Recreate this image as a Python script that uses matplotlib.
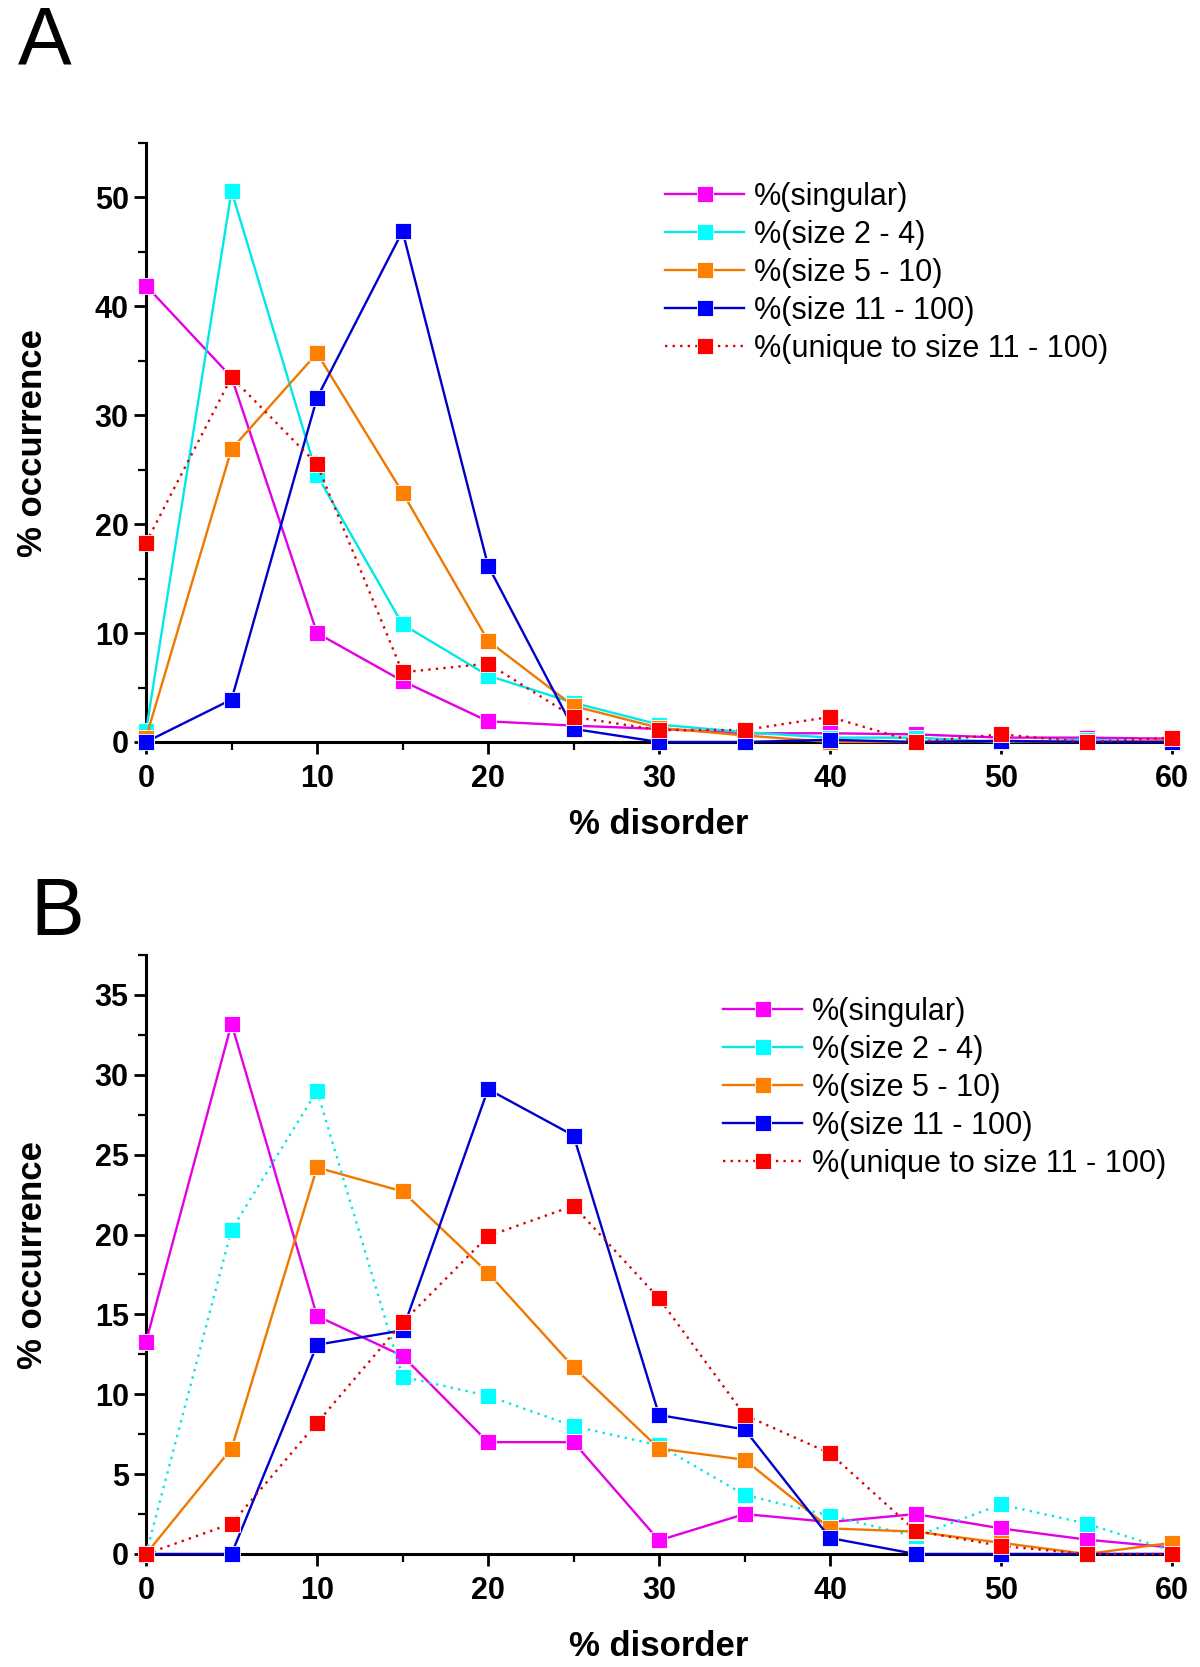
import matplotlib
matplotlib.use("Agg")
import matplotlib.pyplot as plt
from matplotlib.lines import Line2D
from matplotlib.ticker import MultipleLocator

plt.rcParams['font.family'] = ['Liberation Sans', 'DejaVu Sans']

# % disorder bins
disorder = [0, 5, 10, 15, 20, 25, 30, 35, 40, 45, 50, 55, 60]

# panel A
singular_a = [41.9, 33.5, 10.0, 5.6, 1.9, 1.5, 1.2, 0.8, 0.8, 0.7, 0.4, 0.4, 0.3]
size2_4_a = [1.0, 50.6, 24.5, 10.8, 6.1, 3.6, 1.6, 0.9, 0.4, 0.4, 0.0, 0.2, 0.0]
size5_10_a = [0.4, 26.9, 35.7, 22.9, 9.3, 3.3, 1.3, 0.6, 0.0, 0.0, 0.1, 0.0, 0.1]
size11_100_a = [0.0, 3.9, 31.6, 46.9, 16.2, 1.2, 0.0, 0.0, 0.2, 0.0, 0.1, 0.0, 0.0]
unique_a = [18.3, 33.5, 25.5, 6.4, 7.2, 2.3, 1.1, 1.1, 2.3, 0.0, 0.7, 0.0, 0.4]

# panel B
singular_b = [13.3, 33.2, 14.9, 12.4, 7.0, 7.0, 0.85, 2.5, 2.0, 2.5, 1.6, 0.9, 0.4]
size2_4_b = [0.0, 20.3, 29.0, 11.1, 9.9, 8.0, 6.8, 3.7, 2.4, 1.1, 3.1, 1.9, 0.2]
size5_10_b = [0.0, 6.6, 24.2, 22.7, 17.6, 11.7, 6.6, 5.9, 1.6, 1.4, 0.7, 0.0, 0.7]
size11_100_b = [0.0, 0.0, 13.1, 14.0, 29.1, 26.2, 8.7, 7.8, 1.0, 0.0, 0.0, 0.0, 0.0]
unique_b = [0.0, 1.9, 8.2, 14.5, 19.9, 21.8, 16.0, 8.7, 6.3, 1.45, 0.5, 0.0, 0.0]

labels = ['%(singular)', '%(size 2 - 4)', '%(size 5 - 10)',
          '%(size 11 - 100)', '%(unique to size 11 - 100)']
line_colors = ['#E400E4', '#00E8E8', '#F07800', '#0000CC', '#E00000']
marker_colors = ['#FF00FF', '#00FFFF', '#FF8000', '#0000FF', '#FF0000']
dot = (0, (1, 2.2))

fig = plt.figure(figsize=(12, 16.67), dpi=100)
ax_a = fig.add_axes([0.1217, 0.5549, 0.855, 0.3593])
ax_b = fig.add_axes([0.1217, 0.0678, 0.855, 0.3593])


def draw(ax, series, styles, ymax, ymajor, yminor):
    for vals, lc, mc, ls in zip(series, line_colors, marker_colors, styles):
        ax.plot(disorder, vals, color=lc, lw=1.7, ls=ls, marker='s',
                markersize=11.5, markerfacecolor=mc, markeredgecolor='white',
                markeredgewidth=0.6, clip_on=False, zorder=3)
    ax.set_xlim(0, 60)
    ax.set_ylim(0, ymax)
    for s in ['top', 'right']:
        ax.spines[s].set_visible(False)
    for s in ['left', 'bottom']:
        ax.spines[s].set_linewidth(2.2)
    ax.xaxis.set_major_locator(MultipleLocator(10))
    ax.xaxis.set_minor_locator(MultipleLocator(5))
    ax.yaxis.set_major_locator(MultipleLocator(ymajor))
    ax.yaxis.set_minor_locator(MultipleLocator(yminor))
    ax.tick_params(which='major', direction='out', length=8.5, width=2,
                   labelsize=22, pad=4)
    ax.tick_params(axis='x', which='major', pad=7)
    ax.tick_params(which='minor', direction='out', length=5.5, width=1.6)
    for t in ax.get_xticklabels() + ax.get_yticklabels():
        t.set_fontweight('bold')
    ax.set_xlabel('% disorder', fontsize=25, fontweight='bold')
    ax.set_ylabel('% occurrence', fontsize=25, fontweight='bold')
    ax.yaxis.set_label_coords(-0.095, 0.5)


draw(ax_a, [singular_a, size2_4_a, size5_10_a, size11_100_a, unique_a],
     ['-', '-', '-', '-', dot], 55, 10, 5)
ax_a.xaxis.set_label_coords(0.5, -0.110)

draw(ax_b, [singular_b, size2_4_b, size5_10_b, size11_100_b, unique_b],
     ['-', dot, '-', '-', dot], 37.5, 5, 2.5)
ax_b.xaxis.set_label_coords(0.5, -0.127)

# legend proxies (cyan shown solid in both legends)
handles = []
for lc, mc, ls in zip(line_colors, marker_colors, ['-', '-', '-', '-', dot]):
    handles.append(Line2D([], [], color=lc, lw=1.7, ls=ls, marker='s',
                          markersize=11.5, markerfacecolor=mc,
                          markeredgecolor='white', markeredgewidth=0.6))

leg_kw = dict(frameon=False, fontsize=22, handlelength=2.6, handletextpad=0.3,
              labelspacing=0.26, borderpad=0, borderaxespad=0, loc='upper left')
fig.legend(handles, labels, bbox_to_anchor=(665 / 1200, 1 - 182 / 1667), **leg_kw)
fig.legend(handles, labels, bbox_to_anchor=(723 / 1200, 1 - 997 / 1667), **leg_kw)

fig.text(18 / 1200, 1 - 64 / 1667, 'A', fontsize=58)
fig.text(30 / 1200, 1 - 935 / 1667, 'B', fontsize=58)

fig.savefig('out.png', dpi=100, facecolor='white')
